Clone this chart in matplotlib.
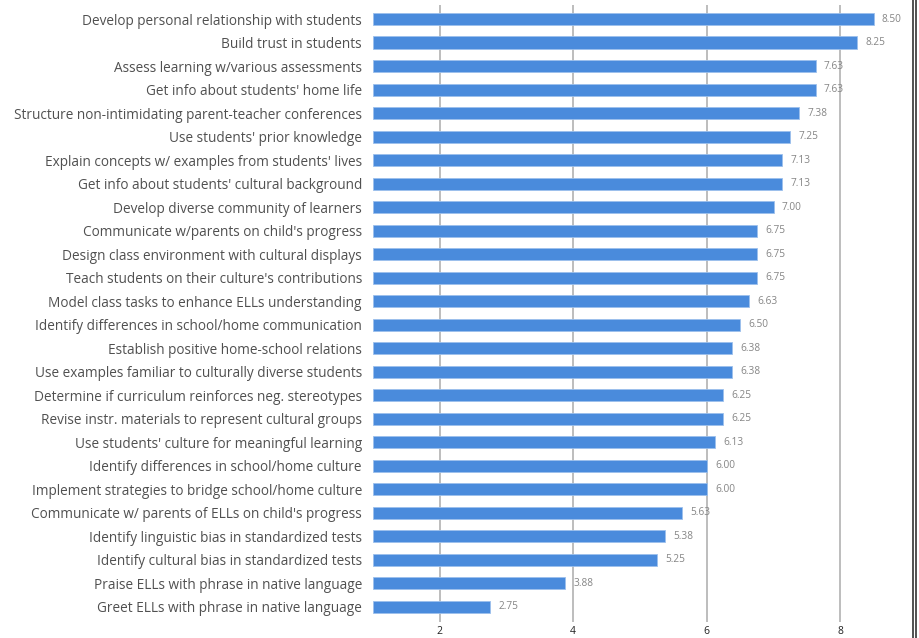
import matplotlib
matplotlib.use("Agg")
import matplotlib.pyplot as plt
from matplotlib.lines import Line2D

categories = [
    "Develop personal relationship with students",
    "Build trust in students",
    "Assess learning w/various assessments",
    "Get info about students' home life",
    "Structure non-intimidating parent-teacher conferences",
    "Use students' prior knowledge",
    "Explain concepts w/ examples from students' lives",
    "Get info about students' cultural background",
    "Develop diverse community of learners",
    "Communicate w/parents on child's progress",
    "Design class environment with cultural displays",
    "Teach students on their culture's contributions",
    "Model class tasks to enhance ELLs understanding",
    "Identify differences in school/home communication",
    "Establish positive home-school relations",
    "Use examples familiar to culturally diverse students",
    "Determine if curriculum reinforces neg. stereotypes",
    "Revise instr. materials to represent cultural groups",
    "Use students' culture for meaningful learning",
    "Identify differences in school/home culture",
    "Implement strategies to bridge school/home culture",
    "Communicate w/ parents of ELLs on child's progress",
    "Identify linguistic bias in standardized tests",
    "Identify cultural bias in standardized tests",
    "Praise ELLs with phrase in native language",
    "Greet ELLs with phrase in native language",
]
values = [8.50, 8.25, 7.63, 7.63, 7.38, 7.25, 7.13, 7.13, 7.00, 6.75, 6.75, 6.75,
          6.63, 6.50, 6.38, 6.38, 6.25, 6.25, 6.13, 6.00, 6.00, 5.63, 5.38, 5.25,
          3.88, 2.75]
xticks = [2, 4, 6, 8]

plt.rcParams['font.family'] = ['Open Sans', 'DejaVu Sans']

W, H = 919, 638
fig = plt.figure(figsize=(W / 100, H / 100), dpi=100)
ax = fig.add_axes([373 / W, 16 / H, (907 - 373) / W, (622 - 5) / H])

y = list(range(len(categories)))
ax.barh(y, [v - 1 for v in values], left=1, height=0.52, color='#4a8bdc',
        edgecolor='#9cc0ec', linewidth=0.6, zorder=3)
for yi, v in zip(y, values):
    ax.annotate(f"{v:.2f}", (v, yi), xytext=(6, 0), textcoords='offset points',
                va='center', ha='left', fontsize=7.3, color='#858585', zorder=4)

ax.set_xlim(1, 9)
ax.set_ylim(len(categories) - 0.35, -0.6)
ax.set_yticks(y)
ax.set_yticklabels(categories, fontsize=9.8, color='#505050')
ax.set_xticks(xticks)
ax.set_xticklabels([str(t) for t in xticks], fontsize=7.5, color='#222222')
ax.tick_params(axis='y', length=0, pad=8)
ax.tick_params(axis='x', length=0, pad=3)
ax.grid(axis='x', color='#b8b8b8', linewidth=1.3, zorder=0)
for s in ax.spines.values():
    s.set_visible(False)

for xp in (912.5, 915.5):
    fig.add_artist(Line2D([xp / W, xp / W], [0, 1], transform=fig.transFigure,
                          color='#333333', linewidth=1.2))

fig.savefig("out.png", dpi=100)
